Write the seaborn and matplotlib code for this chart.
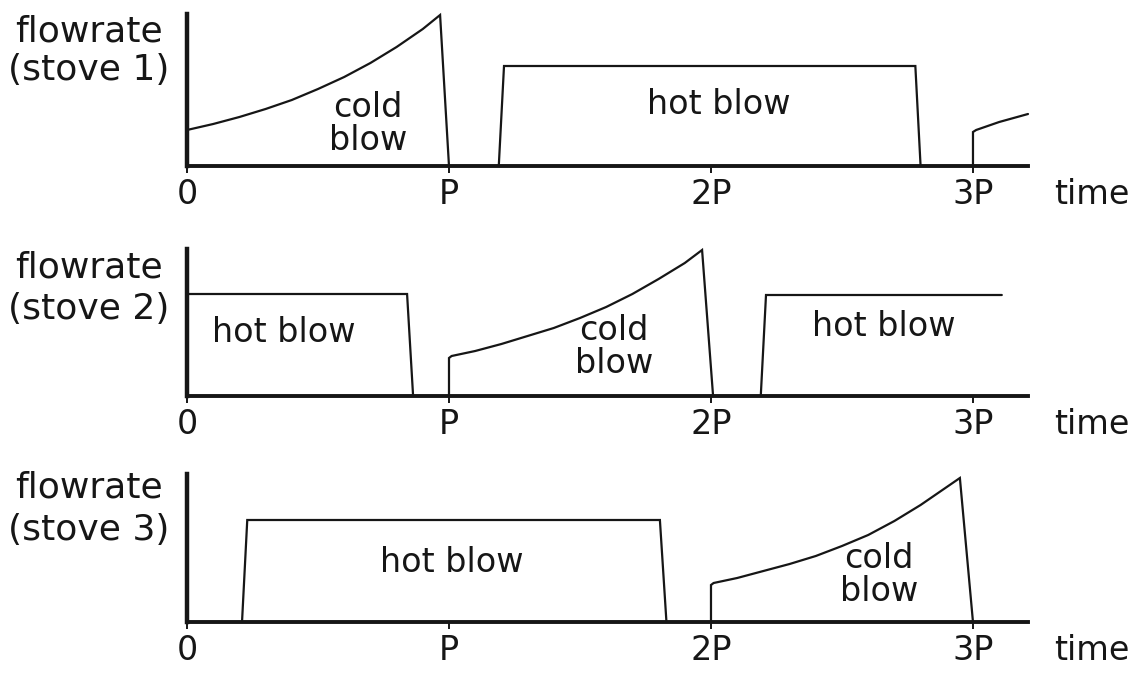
import matplotlib
matplotlib.use("Agg")
import matplotlib.pyplot as plt
from matplotlib.transforms import offset_copy
import numpy as np
import pandas as pd
import seaborn as sns

# ---- time axis (in units of the period P) ----
TICK_POS = [0, 1, 2, 3]
TICK_LABELS = ["0", "P", "2P", "3P"]
T_END = 3.21

# ---- stove 1 ----
S1_COLD_T = [0.00, 0.10, 0.20, 0.30, 0.40, 0.50, 0.60, 0.70, 0.80, 0.90, 0.966, 1.00]
S1_COLD_F = [0.36, 0.42, 0.49, 0.57, 0.66, 0.77, 0.89, 1.03, 1.19, 1.37, 1.51, 0.00]
S1_HOT_T = [1.19, 1.21, 2.78, 2.80]
S1_HOT_F = [0.00, 1.00, 1.00, 0.00]
S1_NEXT_T = [3.00, 3.00, 3.012, 3.10, 3.21]
S1_NEXT_F = [0.00, 0.34, 0.36, 0.44, 0.52]

# ---- stove 2 ----
S2_HOT1_T = [0.00, 0.84, 0.863]
S2_HOT1_F = [1.02, 1.02, 0.00]
S2_COLD_T = [1.00, 1.00, 1.01, 1.10, 1.20, 1.30, 1.40, 1.50, 1.60, 1.70, 1.80, 1.90, 1.966, 2.008]
S2_COLD_F = [0.00, 0.38, 0.40, 0.45, 0.52, 0.60, 0.68, 0.78, 0.89, 1.02, 1.17, 1.33, 1.46, 0.00]
S2_HOT2_T = [2.19, 2.21, 3.11]
S2_HOT2_F = [0.00, 1.01, 1.01]

# ---- stove 3 ----
S3_HOT_T = [0.21, 0.23, 1.805, 1.83]
S3_HOT_F = [0.00, 1.02, 1.02, 0.00]
S3_COLD_T = [2.00, 2.00, 2.01, 2.10, 2.20, 2.30, 2.40, 2.50, 2.60, 2.70, 2.80, 2.90, 2.95, 3.00]
S3_COLD_F = [0.00, 0.37, 0.39, 0.44, 0.51, 0.58, 0.66, 0.76, 0.87, 1.01, 1.17, 1.35, 1.44, 0.00]

SEGMENTS = {
    1: [("cold", S1_COLD_T, S1_COLD_F), ("hot", S1_HOT_T, S1_HOT_F), ("next", S1_NEXT_T, S1_NEXT_F)],
    2: [("hot1", S2_HOT1_T, S2_HOT1_F), ("cold", S2_COLD_T, S2_COLD_F), ("hot2", S2_HOT2_T, S2_HOT2_F)],
    3: [("hot", S3_HOT_T, S3_HOT_F), ("cold", S3_COLD_T, S3_COLD_F)],
}

# phase labels: (stove, text, t, flow)
PHASE_LABELS = [
    (1, "cold\nblow", 0.69, 0.42),
    (1, "hot blow", 2.03, 0.61),
    (2, "hot blow", 0.37, 0.63),
    (2, "cold\nblow", 1.63, 0.49),
    (2, "hot blow", 2.66, 0.69),
    (3, "hot blow", 1.01, 0.60),
    (3, "cold\nblow", 2.64, 0.47),
]

rows = []
for stove, segs in SEGMENTS.items():
    for name, ts, fs in segs:
        for t, f in zip(ts, fs):
            rows.append({"stove": stove, "segment": name, "t": t, "flow": f})
df = pd.DataFrame(rows)

sns.set_theme(style="white")
plt.rcParams["font.family"] = ["DejaVu Sans"]
INK = "#161616"

W, H = 1144, 678
fig = plt.figure(figsize=(W / 100, H / 100), dpi=100)
fig.patch.set_facecolor("white")

# pixel frames of the three panels: (left, top, right, bottom)
frames = {1: (187, 14, 1028, 166), 2: (187, 249, 1028, 396), 3: (187, 474, 1028, 622)}
ylabel_y = {1: (31, 70), 2: (268, 309), 3: (488, 530)}

for stove in (1, 2, 3):
    l, t, r, b = frames[stove]
    ax = fig.add_axes([l / W, 1 - b / H, (r - l) / W, (b - t) / H])
    sub = df[df["stove"] == stove]
    sns.lineplot(data=sub, x="t", y="flow", units="segment", estimator=None,
                 sort=False, color=INK, linewidth=1.6, ax=ax, legend=False)
    for ln in ax.lines:
        ln.set_clip_on(False)
        ln.set_solid_joinstyle("miter")
    ax.set_xlim(0, T_END)
    ax.set_ylim(0, (b - t) / 100)
    ax.set_facecolor("none")
    sns.despine(ax=ax)
    ax.spines["left"].set_linewidth(3.2)
    ax.spines["bottom"].set_linewidth(2.8)
    for s in ("left", "bottom"):
        ax.spines[s].set_color(INK)
        ax.spines[s].set_capstyle("projecting")
    ax.set_yticks([])
    ax.set_xticks(TICK_POS, TICK_LABELS)
    ax.tick_params(axis="x", bottom=True, length=5, width=1.4, pad=4,
                   labelsize=24, color=INK, labelcolor=INK)
    ax.set_xlabel("")
    ax.set_ylabel("")

    trans = offset_copy(ax.transData, fig=fig, y=-9, units="points")
    ax.text(3.455, 0, "time", transform=trans, ha="center", va="top",
            fontsize=24, color=INK, clip_on=False)

    for st, txt, tx, fy in PHASE_LABELS:
        if st == stove:
            ax.text(tx, fy, txt, ha="center", va="center", multialignment="center",
                    fontsize=24, color=INK, linespacing=1.0)

    y1, y2 = ylabel_y[stove]
    fig.text(89 / W, 1 - y1 / H, "flowrate", ha="center", va="center",
             fontsize=26, color=INK)
    fig.text(89 / W, 1 - y2 / H, f"(stove {stove})", ha="center", va="center",
             fontsize=26, color=INK)

fig.savefig("out.png", dpi=100, facecolor="white")
